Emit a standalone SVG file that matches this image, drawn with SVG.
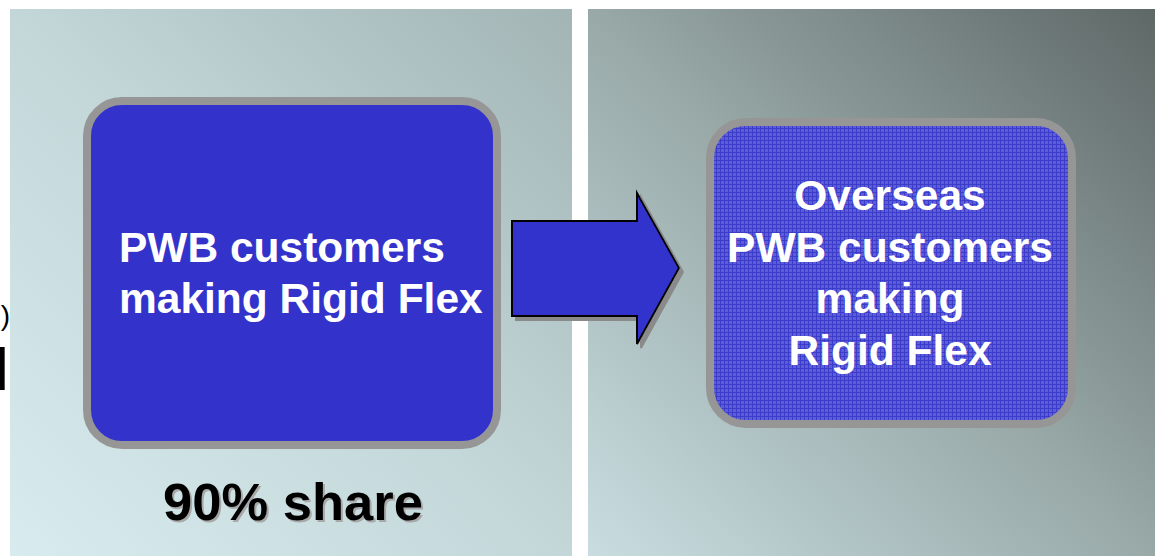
<svg xmlns="http://www.w3.org/2000/svg" width="1155" height="556" viewBox="0 0 1155 556">
<style>
  .box { stroke: #969696; stroke-width: 8; }
  .wt { font-family: "Liberation Sans", Arial, sans-serif; font-weight: bold; font-size: 42.5px; fill: #ffffff; text-anchor: middle; }
  .wl { text-anchor: start; }
  .share { font-family: "Liberation Sans", Arial, sans-serif; font-weight: bold; font-size: 52.5px; text-anchor: middle; }
</style>
<defs>
  <linearGradient id="gL" x1="0" y1="1" x2="1" y2="0">
    <stop offset="0" stop-color="#d8ecef"/>
    <stop offset="0.5" stop-color="#c3d7d9"/>
    <stop offset="1" stop-color="#a2b4b4"/>
  </linearGradient>
  <linearGradient id="gR" x1="0" y1="1" x2="1" y2="0">
    <stop offset="0" stop-color="#c9dde0"/>
    <stop offset="0.5" stop-color="#98a9a8"/>
    <stop offset="1" stop-color="#5e6867"/>
  </linearGradient>
  <pattern id="grid" width="4" height="4" patternUnits="userSpaceOnUse">
    <rect width="4" height="4" fill="#5d5dd8"/>
    <rect width="4" height="1" fill="#3c3ccc"/>
    <rect width="1" height="4" fill="#3c3ccc"/>
  </pattern>
  <filter id="sh" x="-10%" y="-10%" width="130%" height="130%">
    <feOffset dx="4" dy="4" in="SourceAlpha" result="o"/>
    <feFlood flood-color="#8a8a8a"/>
    <feComposite in2="o" operator="in" result="s"/>
    <feMerge><feMergeNode in="s"/><feMergeNode in="SourceGraphic"/></feMerge>
  </filter>
</defs>
<rect width="1155" height="556" fill="#ffffff"/>
<rect x="10" y="9" width="562" height="547" fill="url(#gL)"/>
<rect x="588" y="9" width="567" height="547" fill="url(#gR)"/>

<g id="edge-text">
  <text x="10" y="325" font-family="Liberation Sans, Arial, sans-serif" font-size="28" text-anchor="end" fill="#000">)</text>
  <text x="9" y="390" font-family="Liberation Sans, Arial, sans-serif" font-weight="bold" font-size="60" text-anchor="end" fill="#000">l</text>
</g>

<g id="node-left">
  <rect class="box" x="87" y="101" width="410" height="344" rx="35" fill="#3333cc"/>
  <text class="wt wl" x="119" y="262">PWB customers</text>
  <text class="wt wl" x="119" y="313">making Rigid Flex</text>
</g>

<g id="node-right">
  <rect class="box" x="710" y="122" width="362" height="302" rx="36" fill="url(#grid)"/>
  <text class="wt" x="890" y="210">Overseas</text>
  <text class="wt" x="890" y="262">PWB customers</text>
  <text class="wt" x="890" y="313">making</text>
  <text class="wt" x="890" y="365">Rigid Flex</text>
</g>

<g id="connectors">
  <path d="M512,221 H637 V193 L679,268 L637,344 V316 H512 Z" fill="#3333cc" stroke="#000" stroke-width="2" stroke-linejoin="miter" filter="url(#sh)"/>
</g>

<g id="label-share">
  <text class="share" x="295" y="522" fill="#a8a8a8">90% share</text>
  <text class="share" x="293" y="520" fill="#000">90% share</text>
</g>
</svg>
